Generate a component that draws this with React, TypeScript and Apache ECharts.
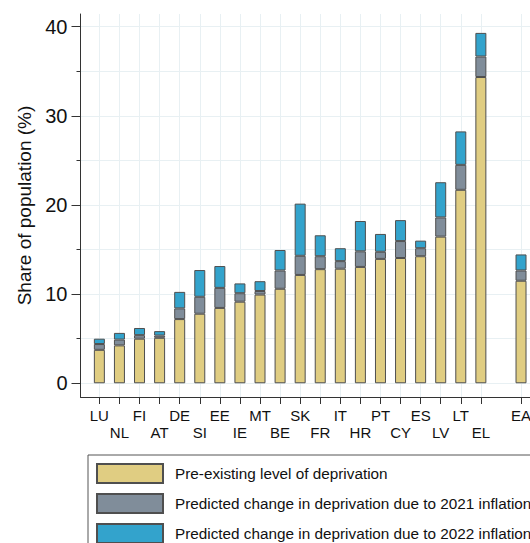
import React, { useEffect, useRef } from "react";
import * as echarts from "echarts";

const codes = ["LU", "NL", "FI", "AT", "DE", "SI", "EE", "IE", "MT", "BE", "SK", "FR", "IT", "HR", "PT", "CY", "ES", "LV", "LT", "EL", "EA"];
// slot on the category scale (a blank slot separates the euro area aggregate)
const slots = [0, 1, 2, 3, 4, 5, 6, 7, 8, 9, 10, 11, 12, 13, 14, 15, 16, 17, 18, 19, 21];
const preExisting = [3.75, 4.25, 5.0, 5.1, 7.2, 7.8, 8.45, 9.15, 9.95, 10.6, 12.15, 12.8, 12.85, 13.05, 13.95, 14.05, 14.25, 16.45, 21.7, 34.35, 11.5];
const change2021 = [0.65, 0.65, 0.4, 0.25, 1.2, 1.9, 2.25, 0.95, 0.4, 2.05, 2.15, 1.45, 0.85, 1.75, 0.8, 1.9, 0.9, 2.15, 2.8, 2.3, 1.15];
const change2022 = [0.6, 0.75, 0.8, 0.5, 1.85, 3.0, 2.45, 1.1, 1.1, 2.3, 5.85, 2.35, 1.45, 3.4, 2.0, 2.35, 0.85, 3.95, 3.75, 2.65, 1.8];
const seriesNames = [
  "Pre-existing level of deprivation",
  "Predicted change in deprivation due to 2021 inflation",
  "Predicted change in deprivation due to 2022 inflation",
];
const yMajorTicks = [0, 10, 20, 30, 40];
const yMinorTicks = [5, 15, 25, 35];

const FONT = "'Liberation Sans', Arial, Helvetica, sans-serif";
const TXT = "#111";
const GRID = "#e8f0f3";
const colors = ["#e0cd82", "#808d9a", "#33a3cc"];

export default function App() {
  const ref = useRef<HTMLDivElement>(null);
  useEffect(() => {
    if (!ref.current) return;
    const chart = echarts.init(ref.current, undefined, { renderer: "svg" });
    const mk = (vals: number[], i: number) => ({
      name: seriesNames[i],
      type: "bar",
      stack: "total",
      barWidth: 11,
      dimensions: ["value", "slot"],
      encode: { x: 1, y: 0 },
      data: slots.map((s, k) => [vals[k], s]),
      itemStyle: { color: colors[i], borderColor: "#4f4f4f", borderWidth: 1 },
      z: 3,
    });
    chart.setOption({
      animation: false,
      textStyle: { fontFamily: FONT },
      grid: { left: 80.5, top: 14, width: 460.6, height: 383, containLabel: false },
      legend: {
        orient: "vertical",
        left: 88,
        top: 455,
        padding: [8, 40, 8, 8],
        itemWidth: 66,
        itemHeight: 19,
        itemGap: 9,
        borderColor: "#555",
        borderWidth: 1,
        icon: "rect",
        textStyle: { fontSize: 15.3, color: TXT, fontFamily: FONT, padding: [0, 0, 0, 7] },
        data: seriesNames,
      },
      xAxis: {
        type: "value",
        min: -0.94,
        max: 22,
        axisLine: { show: true, onZero: false, lineStyle: { color: "#333", width: 1 } },
        axisTick: { show: true, length: 7, customValues: slots, lineStyle: { color: "#333" } },
        axisLabel: {
          customValues: slots,
          margin: 10,
          fontSize: 15,
          lineHeight: 17,
          color: TXT,
          fontFamily: FONT,
          formatter: (v: number) => {
            const i = slots.indexOf(Math.round(v));
            if (i < 0) return "";
            return i % 2 ? "\n" + codes[i] : codes[i];
          },
        },
        splitLine: { show: true, lineStyle: { color: GRID, width: 1 } },
      },
      yAxis: [
        {
          type: "value",
          min: -1.54,
          max: 41.42,
          name: "Share of population (%)",
          nameLocation: "middle",
          nameGap: 47,
          nameTextStyle: { fontSize: 19, color: TXT, fontFamily: FONT },
          axisLine: { show: true, onZero: false, lineStyle: { color: "#333", width: 1 } },
          axisTick: { show: true, length: 9, customValues: yMajorTicks, lineStyle: { color: "#333" } },
          axisLabel: { customValues: yMajorTicks, margin: 13, fontSize: 20, color: TXT, fontFamily: FONT },
          splitLine: { show: true, lineStyle: { color: GRID, width: 1 } },
        },
        {
          type: "value",
          position: "left",
          min: -1.54,
          max: 41.42,
          axisLine: { show: false, onZero: false },
          axisTick: { show: true, length: 4, customValues: yMinorTicks, lineStyle: { color: "#333" } },
          axisLabel: { show: false, customValues: yMinorTicks },
          splitLine: { show: true, lineStyle: { color: GRID, width: 1 } },
        },
      ],
      series: [mk(preExisting, 0), mk(change2021, 1), mk(change2022, 2)],
    });
    return () => chart.dispose();
  }, []);
  return (
    <div style={{ position: "fixed", left: 0, top: 0, width: 530, height: 543, overflow: "hidden", background: "#fff" }}>
      <div ref={ref} style={{ width: 600, height: 560 }} />
    </div>
  );
}
